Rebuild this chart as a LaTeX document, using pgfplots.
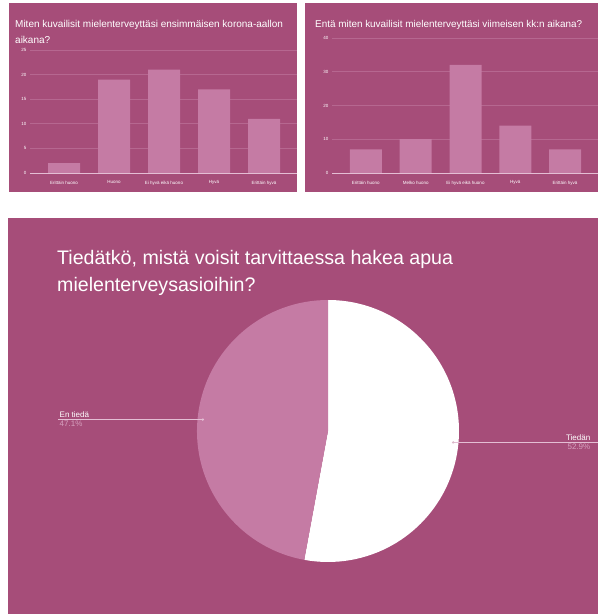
\documentclass[border=0pt]{standalone}
\usepackage{pgfplots}
\pgfplotsset{compat=1.18}
\usepackage{fontspec}
\setmainfont{Liberation Sans}
\definecolor{bg}{RGB}{166,77,121}
\definecolor{barc}{RGB}{197,123,164}
\definecolor{gridc}{RGB}{182,103,144}
\definecolor{pctc}{RGB}{214,160,190}
\definecolor{linec}{RGB}{228,190,212}
\pgfplotsset{
  topchart/.style={
    anchor=south west, scale only axis,
    xmin=-0.68, xmax=4.66, ymin=0,
    axis line style={draw=none}, tick style={draw=none},
    ymajorgrids, grid style={gridc, line width=0.6pt},
    xtick={0,...,4},
    ticklabel style={font=\fontsize{4.5}{5}\selectfont, text=white},
    /pgf/number format/assume math mode=true,
    ybar, bar width=32pt, clip=false,
  }
}
\begin{document}
\begin{tikzpicture}[x=1pt,y=1pt]
\path[use as bounding box] (0,0) rectangle (598,614);
\fill[white] (0,0) rectangle (598,614);
\fill[bg] (9,422) rectangle (297,611);
\fill[bg] (305,422) rectangle (598,611);
\fill[bg] (8,0) rectangle (598,396);
% titles of the top charts
\node[anchor=base west, white, font=\fontsize{10}{12}\selectfont, inner sep=0] at (15,586.5) {Miten kuvailisit mielenterveyttäsi ensimmäisen korona-aallon};
\node[anchor=base west, white, font=\fontsize{10}{12}\selectfont, inner sep=0] at (15,570.5) {aikana?};
\node[anchor=base west, white, font=\fontsize{9.9}{12}\selectfont, inner sep=0] at (315,586.5) {Entä miten kuvailisit mielenterveyttäsi viimeisen kk:n aikana?};
% left bar chart
\begin{axis}[topchart, at={(30pt,441pt)}, width=267pt, height=123pt,
  ymax=25, ytick={0,5,10,15,20,25},
  xticklabels={Erittäin huono, Huono, Ei hyvä eikä huono, Hyvä, Erittäin hyvä}]
\addplot[fill=barc, draw=none] coordinates {(0,2) (1,19) (2,21) (3,17) (4,11)};
\draw[linec, line width=0.6pt] (axis cs:-0.68,0) -- (axis cs:4.66,0);
\end{axis}
% right bar chart
\begin{axis}[topchart, at={(332pt,441pt)}, width=266pt, height=135pt,
  ymax=40, ytick={0,10,20,30,40},
  xticklabels={Erittäin huono, Melko huono, Ei hyvä eikä huono, Hyvä, Erittäin hyvä}]
\addplot[fill=barc, draw=none] coordinates {(0,7) (1,10) (2,32) (3,14) (4,7)};
\draw[linec, line width=0.6pt] (axis cs:-0.68,0) -- (axis cs:4.66,0);
\end{axis}
% pie title
\node[anchor=base west, white, font=\fontsize{19.6}{22}\selectfont, inner sep=0] at (57,349) {Tiedätkö, mistä voisit tarvittaessa hakea apua};
\node[anchor=base west, white, font=\fontsize{19.6}{22}\selectfont, inner sep=0] at (57,322) {mielenterveysasioihin?};
% pie
\pgfmathsetmacro{\va}{52.9}
\pgfmathsetmacro{\vb}{47.1}
\pgfmathsetmacro{\endA}{90-\va*3.6}
\pgfmathsetmacro{\midA}{90-\va*1.8}
\pgfmathsetmacro{\midB}{\endA-\vb*1.8}
\begin{axis}[at={(328pt,183pt)}, anchor=center, scale only axis, width=262pt, height=262pt,
  xmin=-1, xmax=1, ymin=-1, ymax=1, hide axis, clip=false]
\addplot[draw=none] coordinates {(0,0)};
\fill[white] (axis cs:0,0) -- (axis cs:0,1) arc[start angle=90, end angle=\endA, radius=131pt] -- cycle;
\fill[barc] (axis cs:0,0) -- ({axis cs:{cos(\endA)},{sin(\endA)}}) arc[start angle=\endA, end angle=-270, radius=131pt] -- cycle;
% leader lines
\draw[linec, line width=0.8pt] ({axis cs:{0.96*cos(\midB)},{0.96*sin(\midB)}}) -- ({axis cs:-2.061,{0.96*sin(\midB)}});
\fill[linec] ({axis cs:{0.96*cos(\midB)},{0.96*sin(\midB)}}) circle[radius=1.3pt];
\node[anchor=south west, inner sep=1.5pt, white, font=\fontsize{8}{9}\selectfont] at ({axis cs:-2.061,{0.96*sin(\midB)}}) {En tiedä};
\node[anchor=north west, inner sep=1.5pt, pctc, font=\fontsize{8}{9}\selectfont] at ({axis cs:-2.061,{0.96*sin(\midB)}}) {47.1\%};
\draw[linec, line width=0.8pt] ({axis cs:{0.96*cos(\midA)},{0.96*sin(\midA)}}) -- ({axis cs:2.061,{0.96*sin(\midA)}});
\fill[bg!40!white] ({axis cs:{0.96*cos(\midA)},{0.96*sin(\midA)}}) circle[radius=1.3pt];
\node[anchor=south east, inner sep=1.5pt, white, font=\fontsize{8}{9}\selectfont] at ({axis cs:2.015,{0.96*sin(\midA)}}) {Tiedän};
\node[anchor=north east, inner sep=1.5pt, pctc, font=\fontsize{8}{9}\selectfont] at ({axis cs:2.015,{0.96*sin(\midA)}}) {52.9\%};
\end{axis}
\end{tikzpicture}
\end{document}
